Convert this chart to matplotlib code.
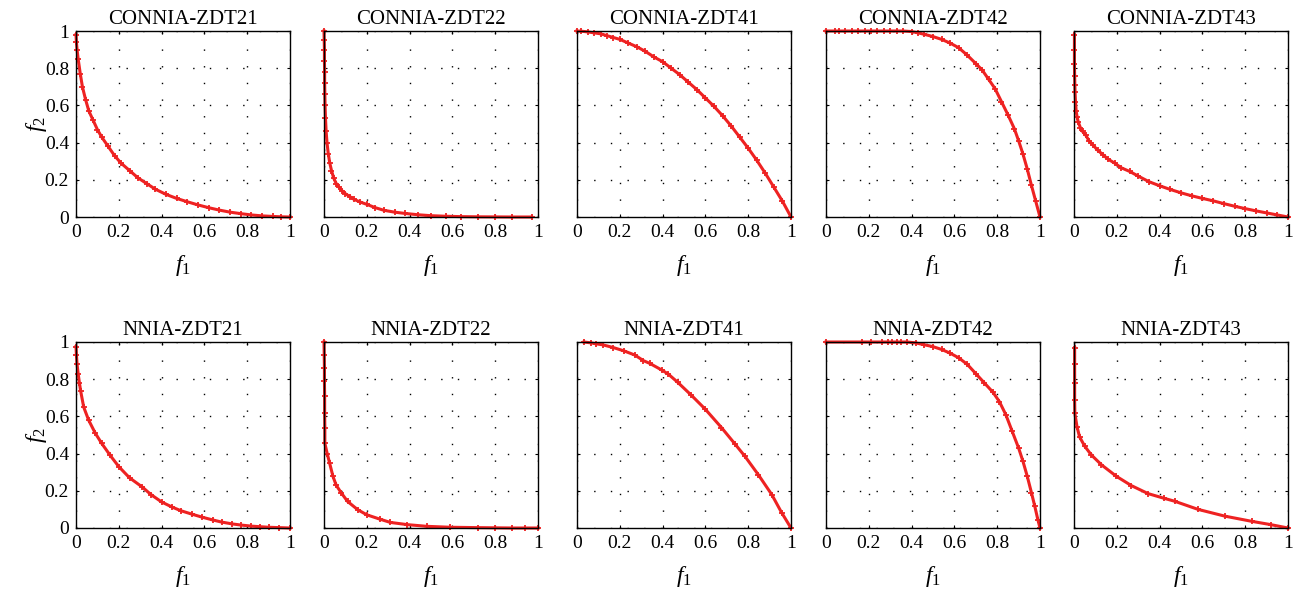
import matplotlib
matplotlib.use("Agg")
import matplotlib.pyplot as plt

plt.rcParams['font.family'] = ['Liberation Serif', 'DejaVu Serif']
plt.rcParams['mathtext.fontset'] = 'custom'
plt.rcParams['mathtext.it'] = 'Liberation Serif:italic'
plt.rcParams['mathtext.rm'] = 'Liberation Serif'

# front points (f1, f2)
c21_x = [0, 0.002, 0.005, 0.01, 0.02, 0.03, 0.045, 0.06, 0.08, 0.1, 0.12, 0.15, 0.18, 0.21, 0.25, 0.29,
         0.33, 0.37, 0.42, 0.47, 0.52, 0.57, 0.62, 0.67, 0.72, 0.77, 0.82, 0.87, 0.92, 0.96, 1.0]
c21_y = [0.98, 0.94, 0.9, 0.85, 0.77, 0.7, 0.63, 0.57, 0.52, 0.47, 0.43, 0.38, 0.33, 0.29, 0.25, 0.21,
         0.18, 0.15, 0.122, 0.1, 0.082, 0.065, 0.05, 0.037, 0.026, 0.018, 0.011, 0.006, 0.003, 0.001, 0.0]

c22_x = [0.0, 0.001, 0.002, 0.002, 0.003, 0.003, 0.004, 0.005, 0.007, 0.01, 0.014, 0.02, 0.027, 0.035,
         0.045, 0.057, 0.07, 0.085, 0.1, 0.12, 0.14, 0.17, 0.2, 0.24, 0.28, 0.33, 0.38, 0.44, 0.5, 0.57,
         0.64, 0.72, 0.8, 0.88, 0.97]
c22_y = [1.0, 0.95, 0.9, 0.84, 0.78, 0.72, 0.66, 0.6, 0.53, 0.46, 0.4, 0.34, 0.29, 0.25, 0.21, 0.18,
         0.16, 0.14, 0.125, 0.11, 0.095, 0.08, 0.068, 0.05, 0.036, 0.026, 0.019, 0.012, 0.007, 0.004,
         0.002, 0.001, 0.0005, 0.0, 0.0]

c41_x = [0, 0.02, 0.05, 0.08, 0.11, 0.14, 0.17, 0.2, 0.24, 0.28, 0.32, 0.36, 0.4, 0.44, 0.48, 0.52,
         0.56, 0.6, 0.64, 0.68, 0.72, 0.76, 0.8, 0.84, 0.88, 0.92, 0.96, 1.0]
c41_y = [1.0, 0.999, 0.995, 0.99, 0.985, 0.975, 0.965, 0.955, 0.935, 0.915, 0.89, 0.86, 0.835, 0.8,
         0.765, 0.725, 0.685, 0.64, 0.595, 0.545, 0.49, 0.43, 0.37, 0.305, 0.235, 0.16, 0.085, 0.0]

c42_x = [0, 0.04, 0.06, 0.09, 0.12, 0.15, 0.18, 0.21, 0.24, 0.27, 0.3, 0.33, 0.36, 0.4, 0.43, 0.46,
         0.5, 0.54, 0.58, 0.62, 0.66, 0.7, 0.73, 0.76, 0.79, 0.82, 0.85, 0.88, 0.9, 0.92, 0.94, 0.96,
         0.98, 1.0]
c42_y = [1, 1, 1, 1, 1, 1, 1, 1, 1, 1, 1, 1, 1, 0.997, 0.99, 0.982, 0.97, 0.955, 0.935, 0.91, 0.87,
         0.825, 0.79, 0.74, 0.69, 0.62, 0.55, 0.475, 0.41, 0.34, 0.26, 0.17, 0.085, 0.0]

c43_x = [0.002, 0.002, 0.002, 0.003, 0.004, 0.005, 0.007, 0.01, 0.015, 0.02, 0.03, 0.04, 0.055, 0.07,
         0.09, 0.11, 0.135, 0.16, 0.19, 0.22, 0.26, 0.3, 0.35, 0.4, 0.45, 0.5, 0.55, 0.6, 0.65, 0.7,
         0.75, 0.8, 0.85, 0.9, 0.95, 1.0]
c43_y = [0.98, 0.9, 0.82, 0.76, 0.71, 0.67, 0.62, 0.57, 0.535, 0.51, 0.48, 0.46, 0.44, 0.41, 0.385,
         0.36, 0.335, 0.31, 0.29, 0.265, 0.245, 0.22, 0.19, 0.168, 0.148, 0.13, 0.114, 0.1, 0.087,
         0.072, 0.058, 0.045, 0.033, 0.022, 0.011, 0.0]

n21_x = [0, 0.002, 0.005, 0.01, 0.016, 0.022, 0.036, 0.059, 0.09, 0.12, 0.16, 0.2, 0.25, 0.31, 0.35,
         0.4, 0.45, 0.49, 0.54, 0.59, 0.64, 0.68, 0.73, 0.77, 0.82, 0.86, 0.9, 0.95, 1.0]
n21_y = [0.975, 0.93, 0.88, 0.83, 0.78, 0.735, 0.65, 0.58, 0.51, 0.455, 0.39, 0.33, 0.27, 0.22, 0.18,
         0.14, 0.112, 0.093, 0.075, 0.058, 0.043, 0.032, 0.022, 0.016, 0.01, 0.007, 0.004, 0.002, 0.0]

n22_x = [0.0, 0.001, 0.002, 0.002, 0.003, 0.003, 0.004, 0.004, 0.015, 0.026, 0.042, 0.057, 0.08,
         0.11, 0.158, 0.2, 0.26, 0.31, 0.39, 0.48, 0.59, 0.72, 0.8, 0.88, 0.94, 1.0]
n22_y = [1.0, 0.93, 0.86, 0.79, 0.71, 0.62, 0.54, 0.455, 0.4, 0.35, 0.277, 0.23, 0.19, 0.143, 0.098,
         0.071, 0.048, 0.03, 0.018, 0.009, 0.004, 0.002, 0.001, 0.0, 0.0, 0.0]

n41_x = [0.033, 0.067, 0.09, 0.12, 0.17, 0.22, 0.27, 0.31, 0.34, 0.395, 0.426, 0.47, 0.535, 0.6,
         0.675, 0.738, 0.785, 0.847, 0.91, 0.956, 1.0]
n41_y = [1.0, 0.995, 0.99, 0.985, 0.97, 0.952, 0.93, 0.9, 0.885, 0.85, 0.828, 0.784, 0.713, 0.638,
         0.54, 0.452, 0.385, 0.287, 0.18, 0.083, 0.0]

n42_x = [0, 0.17, 0.21, 0.26, 0.29, 0.31, 0.33, 0.35, 0.38, 0.42, 0.46, 0.5, 0.54, 0.58, 0.62, 0.66,
         0.7, 0.74, 0.78, 0.81, 0.84, 0.87, 0.9, 0.92, 0.94, 0.96, 0.975, 0.99, 1.0]
n42_y = [1, 1, 1, 1, 1, 1, 1, 1, 1, 0.995, 0.985, 0.975, 0.96, 0.94, 0.915, 0.88, 0.83, 0.78, 0.73,
         0.68, 0.61, 0.52, 0.43, 0.36, 0.28, 0.19, 0.12, 0.045, 0.0]

n43_x = [0.003, 0.003, 0.003, 0.003, 0.004, 0.014, 0.026, 0.05, 0.08, 0.128, 0.198, 0.268, 0.346,
         0.42, 0.47, 0.58, 0.704, 0.83, 0.92, 1.0]
n43_y = [0.97, 0.88, 0.78, 0.69, 0.617, 0.545, 0.49, 0.44, 0.394, 0.34, 0.278, 0.228, 0.185, 0.16,
         0.144, 0.1, 0.064, 0.036, 0.018, 0.0]

titles = ['CONNIA-ZDT21', 'CONNIA-ZDT22', 'CONNIA-ZDT41', 'CONNIA-ZDT42', 'CONNIA-ZDT43',
          'NNIA-ZDT21', 'NNIA-ZDT22', 'NNIA-ZDT41', 'NNIA-ZDT42', 'NNIA-ZDT43']
fronts = [(c21_x, c21_y), (c22_x, c22_y), (c41_x, c41_y), (c42_x, c42_y), (c43_x, c43_y),
          (n21_x, n21_y), (n22_x, n22_y), (n41_x, n41_y), (n42_x, n42_y), (n43_x, n43_y)]
ticks = [0, 0.2, 0.4, 0.6, 0.8, 1]
tick_labels = ['0', '0.2', '0.4', '0.6', '0.8', '1']

W, H = 1301, 595
fig = plt.figure(figsize=(W / 100, H / 100), dpi=100)
lefts = [76, 324, 577, 826, 1074]
tops = [31, 342]
aw, ah = 214, 186

for k, (title, (fx, fy)) in enumerate(zip(titles, fronts)):
    r, c = divmod(k, 5)
    ax = fig.add_axes([lefts[c] / W, 1 - (tops[r] + ah) / H, aw / W, ah / H])
    ax.plot(fx, fy, '-+', color='#ee2222', lw=2.2, ms=5, mew=1.3, clip_on=False)
    ax.set_xlim(0, 1)
    ax.set_ylim(0, 1)
    ax.set_xticks(ticks)
    ax.set_xticklabels(tick_labels)
    ax.set_yticks(ticks)
    if c == 0:
        ax.set_yticklabels(tick_labels)
        ax.set_ylabel('$f_2$', fontsize=17, labelpad=-3)
    else:
        ax.set_yticklabels([])
    ax.tick_params(direction='in', length=2.5, top=True, right=True, labelsize=14, pad=5)
    ax.grid(True, color='black', linestyle=(0, (1, 11)), linewidth=1.0)
    for s in ax.spines.values():
        s.set_linewidth(1.0)
    ax.set_title(title, fontsize=15, pad=5)
    ax.set_xlabel('$f_1$', fontsize=17, labelpad=9)

fig.savefig('out.png', dpi=100)
